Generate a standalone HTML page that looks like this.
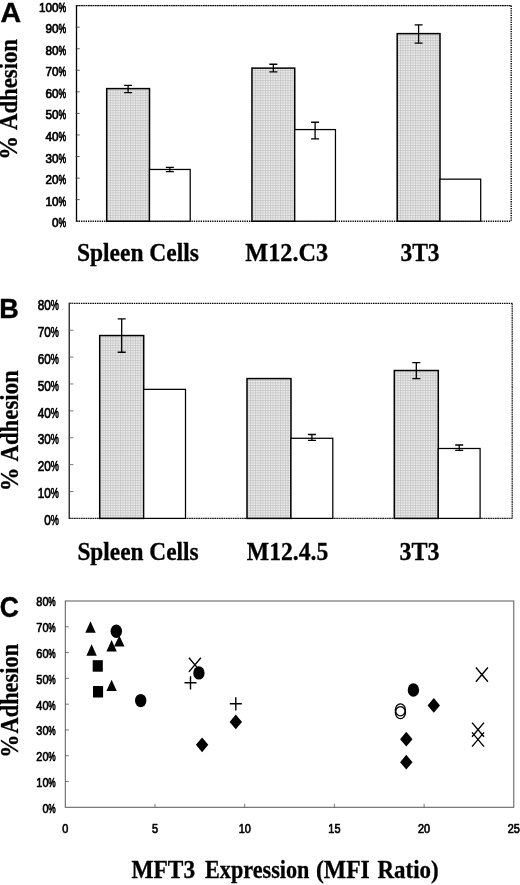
<!DOCTYPE html>
<html><head><meta charset="utf-8"><title>Figure</title>
<style>html,body{margin:0;padding:0;background:#fff}svg{display:block;will-change:transform;opacity:0.999}text{fill:#000}</style>
</head><body>
<svg width="520" height="885" viewBox="0 0 520 885">
<defs>
<pattern id="g" width="2.5" height="2.5" patternUnits="userSpaceOnUse">
<rect width="2.5" height="2.5" fill="#ececec"/>
<path d="M0 0.5H2.5M0.5 0V2.5" stroke="#c6c6c6" stroke-width="0.8"/>
</pattern>
</defs>
<rect width="520" height="885" fill="#fff"/>

<path d="M76.5 5.6H511.2" stroke="#000" stroke-width="1.1" stroke-dasharray="1.8 0.5" fill="none"/>
<path d="M511.2 5.6V221.2" stroke="#000" stroke-width="1.4" stroke-dasharray="1.3 1.0" fill="none"/>
<path d="M76.5 221.2H511.2" stroke="#000" stroke-width="1.4" stroke-dasharray="1.3 1.0" fill="none"/>
<path d="M76.5 5.1V221.7" stroke="#000" stroke-width="1.3" fill="none"/>
<path d="M75.7 221.20H79.7" stroke="#333" stroke-width="0.8"/>
<text transform="translate(58.57,227.25) scale(0.9,1)" text-anchor="end" font-family="Liberation Sans, Arial, sans-serif" font-size="13.0" stroke="#000" stroke-width="0.75">0</text>
<text transform="translate(66.00,227.25) scale(0.66,1)" text-anchor="end" font-family="Liberation Sans, Arial, sans-serif" font-size="13.0" stroke="#000" stroke-width="0.75">%</text>
<path d="M75.7 199.64H79.7" stroke="#333" stroke-width="0.8"/>
<text transform="translate(58.57,205.69) scale(0.9,1)" text-anchor="end" font-family="Liberation Sans, Arial, sans-serif" font-size="13.0" stroke="#000" stroke-width="0.75">10</text>
<text transform="translate(66.00,205.69) scale(0.66,1)" text-anchor="end" font-family="Liberation Sans, Arial, sans-serif" font-size="13.0" stroke="#000" stroke-width="0.75">%</text>
<path d="M75.7 178.08H79.7" stroke="#333" stroke-width="0.8"/>
<text transform="translate(58.57,184.13) scale(0.9,1)" text-anchor="end" font-family="Liberation Sans, Arial, sans-serif" font-size="13.0" stroke="#000" stroke-width="0.75">20</text>
<text transform="translate(66.00,184.13) scale(0.66,1)" text-anchor="end" font-family="Liberation Sans, Arial, sans-serif" font-size="13.0" stroke="#000" stroke-width="0.75">%</text>
<path d="M75.7 156.52H79.7" stroke="#333" stroke-width="0.8"/>
<text transform="translate(58.57,162.57) scale(0.9,1)" text-anchor="end" font-family="Liberation Sans, Arial, sans-serif" font-size="13.0" stroke="#000" stroke-width="0.75">30</text>
<text transform="translate(66.00,162.57) scale(0.66,1)" text-anchor="end" font-family="Liberation Sans, Arial, sans-serif" font-size="13.0" stroke="#000" stroke-width="0.75">%</text>
<path d="M75.7 134.96H79.7" stroke="#333" stroke-width="0.8"/>
<text transform="translate(58.57,141.01) scale(0.9,1)" text-anchor="end" font-family="Liberation Sans, Arial, sans-serif" font-size="13.0" stroke="#000" stroke-width="0.75">40</text>
<text transform="translate(66.00,141.01) scale(0.66,1)" text-anchor="end" font-family="Liberation Sans, Arial, sans-serif" font-size="13.0" stroke="#000" stroke-width="0.75">%</text>
<path d="M75.7 113.40H79.7" stroke="#333" stroke-width="0.8"/>
<text transform="translate(58.57,119.45) scale(0.9,1)" text-anchor="end" font-family="Liberation Sans, Arial, sans-serif" font-size="13.0" stroke="#000" stroke-width="0.75">50</text>
<text transform="translate(66.00,119.45) scale(0.66,1)" text-anchor="end" font-family="Liberation Sans, Arial, sans-serif" font-size="13.0" stroke="#000" stroke-width="0.75">%</text>
<path d="M75.7 91.84H79.7" stroke="#333" stroke-width="0.8"/>
<text transform="translate(58.57,97.89) scale(0.9,1)" text-anchor="end" font-family="Liberation Sans, Arial, sans-serif" font-size="13.0" stroke="#000" stroke-width="0.75">60</text>
<text transform="translate(66.00,97.89) scale(0.66,1)" text-anchor="end" font-family="Liberation Sans, Arial, sans-serif" font-size="13.0" stroke="#000" stroke-width="0.75">%</text>
<path d="M75.7 70.28H79.7" stroke="#333" stroke-width="0.8"/>
<text transform="translate(58.57,76.33) scale(0.9,1)" text-anchor="end" font-family="Liberation Sans, Arial, sans-serif" font-size="13.0" stroke="#000" stroke-width="0.75">70</text>
<text transform="translate(66.00,76.33) scale(0.66,1)" text-anchor="end" font-family="Liberation Sans, Arial, sans-serif" font-size="13.0" stroke="#000" stroke-width="0.75">%</text>
<path d="M75.7 48.72H79.7" stroke="#333" stroke-width="0.8"/>
<text transform="translate(58.57,54.77) scale(0.9,1)" text-anchor="end" font-family="Liberation Sans, Arial, sans-serif" font-size="13.0" stroke="#000" stroke-width="0.75">80</text>
<text transform="translate(66.00,54.77) scale(0.66,1)" text-anchor="end" font-family="Liberation Sans, Arial, sans-serif" font-size="13.0" stroke="#000" stroke-width="0.75">%</text>
<path d="M75.7 27.16H79.7" stroke="#333" stroke-width="0.8"/>
<text transform="translate(58.57,33.21) scale(0.9,1)" text-anchor="end" font-family="Liberation Sans, Arial, sans-serif" font-size="13.0" stroke="#000" stroke-width="0.75">90</text>
<text transform="translate(66.00,33.21) scale(0.66,1)" text-anchor="end" font-family="Liberation Sans, Arial, sans-serif" font-size="13.0" stroke="#000" stroke-width="0.75">%</text>
<path d="M75.7 5.60H79.7" stroke="#333" stroke-width="0.8"/>
<text transform="translate(58.57,11.65) scale(0.9,1)" text-anchor="end" font-family="Liberation Sans, Arial, sans-serif" font-size="13.0" stroke="#000" stroke-width="0.75">100</text>
<text transform="translate(66.00,11.65) scale(0.66,1)" text-anchor="end" font-family="Liberation Sans, Arial, sans-serif" font-size="13.0" stroke="#000" stroke-width="0.75">%</text>
<rect x="106.70" y="88.61" width="42.80" height="132.59" fill="url(#g)" stroke="#000" stroke-width="1.5"/>
<rect x="149.50" y="169.46" width="40.70" height="51.74" fill="#fff" stroke="#000" stroke-width="1.25"/>
<rect x="251.95" y="68.12" width="42.80" height="153.08" fill="url(#g)" stroke="#000" stroke-width="1.5"/>
<rect x="294.75" y="129.57" width="40.70" height="91.63" fill="#fff" stroke="#000" stroke-width="1.25"/>
<rect x="397.20" y="33.63" width="42.80" height="187.57" fill="url(#g)" stroke="#000" stroke-width="1.5"/>
<rect x="440.00" y="179.16" width="40.70" height="42.04" fill="#fff" stroke="#000" stroke-width="1.25"/>
<path d="M128.10 85.37V92.70M124.10 85.37H132.10M124.10 92.70H132.10" stroke="#000" stroke-width="1.3" fill="none"/>
<path d="M169.85 167.30V171.61M165.85 167.30H173.85M165.85 171.61H173.85" stroke="#000" stroke-width="1.3" fill="none"/>
<path d="M273.35 64.24V71.79M269.35 64.24H277.35M269.35 71.79H277.35" stroke="#000" stroke-width="1.3" fill="none"/>
<path d="M315.10 122.24V138.84M311.10 122.24H319.10M311.10 138.84H319.10" stroke="#000" stroke-width="1.3" fill="none"/>
<path d="M418.60 24.79V43.11M414.60 24.79H422.60M414.60 43.11H422.60" stroke="#000" stroke-width="1.3" fill="none"/>
<text transform="translate(77.00,261.20) scale(0.958,1)" text-anchor="start" font-family="Liberation Serif, Times New Roman, serif" font-weight="bold" font-size="24.5" stroke="#000" stroke-width="0.3">Spleen Cells</text>
<text transform="translate(245.30,261.20) scale(0.989,1)" text-anchor="start" font-family="Liberation Serif, Times New Roman, serif" font-weight="bold" font-size="24.5" stroke="#000" stroke-width="0.3">M12.C3</text>
<text transform="translate(400.40,261.20) scale(0.96,1)" text-anchor="start" font-family="Liberation Serif, Times New Roman, serif" font-weight="bold" font-size="24.5" stroke="#000" stroke-width="0.3">3T3</text>
<text transform="translate(17.30,159.70) rotate(-90) scale(0.97,1)" font-family="Liberation Serif, Times New Roman, serif" font-weight="bold" font-size="24.5" stroke="#000" stroke-width="0.3">%</text>
<text transform="translate(17.30,130.00) rotate(-90) scale(0.929,1)" font-family="Liberation Serif, Times New Roman, serif" font-weight="bold" font-size="24.5" stroke="#000" stroke-width="0.3">Adhesion</text>
<text transform="translate(0.6,21.7) scale(1.0,1.0)" font-family="Liberation Sans, Arial, sans-serif" font-weight="bold" font-size="28.5" stroke="#000" stroke-width="0.4">A</text>
<path d="M69.4 303.3H512.2" stroke="#000" stroke-width="1.2" stroke-dasharray="1.5 0.8" fill="none"/>
<path d="M512.2 303.3V518.4" stroke="#222" stroke-width="1.2" stroke-dasharray="1.8 0.5" fill="none"/>
<path d="M69.4 518.4H512.2" stroke="#222" stroke-width="1.1" stroke-dasharray="1.8 0.5" fill="none"/>
<path d="M69.2 302.8V518.9" stroke="#000" stroke-width="1.15" fill="none"/>
<path d="M69.4 518.40H73.4" stroke="#555" stroke-width="0.8"/>
<text transform="translate(50.92,525.08) scale(0.83,1)" text-anchor="end" font-family="Liberation Sans, Arial, sans-serif" font-size="14.2" stroke="#000" stroke-width="0.7">0</text>
<text transform="translate(58.80,525.08) scale(0.64,1)" text-anchor="end" font-family="Liberation Sans, Arial, sans-serif" font-size="14.2" stroke="#000" stroke-width="0.7">%</text>
<path d="M69.4 491.51H73.4" stroke="#555" stroke-width="0.8"/>
<text transform="translate(50.92,498.20) scale(0.83,1)" text-anchor="end" font-family="Liberation Sans, Arial, sans-serif" font-size="14.2" stroke="#000" stroke-width="0.7">10</text>
<text transform="translate(58.80,498.20) scale(0.64,1)" text-anchor="end" font-family="Liberation Sans, Arial, sans-serif" font-size="14.2" stroke="#000" stroke-width="0.7">%</text>
<path d="M69.4 464.62H73.4" stroke="#555" stroke-width="0.8"/>
<text transform="translate(50.92,471.31) scale(0.83,1)" text-anchor="end" font-family="Liberation Sans, Arial, sans-serif" font-size="14.2" stroke="#000" stroke-width="0.7">20</text>
<text transform="translate(58.80,471.31) scale(0.64,1)" text-anchor="end" font-family="Liberation Sans, Arial, sans-serif" font-size="14.2" stroke="#000" stroke-width="0.7">%</text>
<path d="M69.4 437.74H73.4" stroke="#555" stroke-width="0.8"/>
<text transform="translate(50.92,444.42) scale(0.83,1)" text-anchor="end" font-family="Liberation Sans, Arial, sans-serif" font-size="14.2" stroke="#000" stroke-width="0.7">30</text>
<text transform="translate(58.80,444.42) scale(0.64,1)" text-anchor="end" font-family="Liberation Sans, Arial, sans-serif" font-size="14.2" stroke="#000" stroke-width="0.7">%</text>
<path d="M69.4 410.85H73.4" stroke="#555" stroke-width="0.8"/>
<text transform="translate(50.92,417.53) scale(0.83,1)" text-anchor="end" font-family="Liberation Sans, Arial, sans-serif" font-size="14.2" stroke="#000" stroke-width="0.7">40</text>
<text transform="translate(58.80,417.53) scale(0.64,1)" text-anchor="end" font-family="Liberation Sans, Arial, sans-serif" font-size="14.2" stroke="#000" stroke-width="0.7">%</text>
<path d="M69.4 383.96H73.4" stroke="#555" stroke-width="0.8"/>
<text transform="translate(50.92,390.65) scale(0.83,1)" text-anchor="end" font-family="Liberation Sans, Arial, sans-serif" font-size="14.2" stroke="#000" stroke-width="0.7">50</text>
<text transform="translate(58.80,390.65) scale(0.64,1)" text-anchor="end" font-family="Liberation Sans, Arial, sans-serif" font-size="14.2" stroke="#000" stroke-width="0.7">%</text>
<path d="M69.4 357.07H73.4" stroke="#555" stroke-width="0.8"/>
<text transform="translate(50.92,363.76) scale(0.83,1)" text-anchor="end" font-family="Liberation Sans, Arial, sans-serif" font-size="14.2" stroke="#000" stroke-width="0.7">60</text>
<text transform="translate(58.80,363.76) scale(0.64,1)" text-anchor="end" font-family="Liberation Sans, Arial, sans-serif" font-size="14.2" stroke="#000" stroke-width="0.7">%</text>
<path d="M69.4 330.19H73.4" stroke="#555" stroke-width="0.8"/>
<text transform="translate(50.92,336.87) scale(0.83,1)" text-anchor="end" font-family="Liberation Sans, Arial, sans-serif" font-size="14.2" stroke="#000" stroke-width="0.7">70</text>
<text transform="translate(58.80,336.87) scale(0.64,1)" text-anchor="end" font-family="Liberation Sans, Arial, sans-serif" font-size="14.2" stroke="#000" stroke-width="0.7">%</text>
<path d="M69.4 303.30H73.4" stroke="#555" stroke-width="0.8"/>
<text transform="translate(50.92,309.98) scale(0.83,1)" text-anchor="end" font-family="Liberation Sans, Arial, sans-serif" font-size="14.2" stroke="#000" stroke-width="0.7">80</text>
<text transform="translate(58.80,309.98) scale(0.64,1)" text-anchor="end" font-family="Liberation Sans, Arial, sans-serif" font-size="14.2" stroke="#000" stroke-width="0.7">%</text>
<rect x="99.70" y="335.56" width="44.00" height="182.83" fill="url(#g)" stroke="#000" stroke-width="1.5"/>
<rect x="143.70" y="389.34" width="41.80" height="129.06" fill="#fff" stroke="#000" stroke-width="1.25"/>
<rect x="247.00" y="378.58" width="44.00" height="139.81" fill="url(#g)" stroke="#000" stroke-width="1.5"/>
<rect x="291.00" y="438.28" width="41.80" height="80.12" fill="#fff" stroke="#000" stroke-width="1.25"/>
<rect x="394.30" y="370.52" width="44.00" height="147.88" fill="url(#g)" stroke="#000" stroke-width="1.5"/>
<rect x="438.30" y="448.49" width="41.80" height="69.91" fill="#fff" stroke="#000" stroke-width="1.25"/>
<path d="M121.70 318.89V352.24M117.70 318.89H125.70M117.70 352.24H125.70" stroke="#000" stroke-width="1.3" fill="none"/>
<path d="M311.90 434.51V440.43M307.90 434.51H315.90M307.90 440.43H315.90" stroke="#000" stroke-width="1.3" fill="none"/>
<path d="M416.30 362.72V378.58M412.30 362.72H420.30M412.30 378.58H420.30" stroke="#000" stroke-width="1.3" fill="none"/>
<path d="M459.20 445.00V450.37M455.20 445.00H463.20M455.20 450.37H463.20" stroke="#000" stroke-width="1.3" fill="none"/>
<text transform="translate(77.40,559.90) scale(0.952,1)" text-anchor="start" font-family="Liberation Serif, Times New Roman, serif" font-weight="bold" font-size="24.5" stroke="#000" stroke-width="0.3">Spleen Cells</text>
<text transform="translate(246.80,559.90) scale(0.967,1)" text-anchor="start" font-family="Liberation Serif, Times New Roman, serif" font-weight="bold" font-size="24.5" stroke="#000" stroke-width="0.3">M12.4.5</text>
<text transform="translate(399.60,559.90) scale(0.98,1)" text-anchor="start" font-family="Liberation Serif, Times New Roman, serif" font-weight="bold" font-size="24.5" stroke="#000" stroke-width="0.3">3T3</text>
<text transform="translate(17.50,491.30) rotate(-90) scale(0.97,1)" font-family="Liberation Serif, Times New Roman, serif" font-weight="bold" font-size="24.5" stroke="#000" stroke-width="0.3">%</text>
<text transform="translate(17.50,461.60) rotate(-90) scale(0.932,1)" font-family="Liberation Serif, Times New Roman, serif" font-weight="bold" font-size="24.5" stroke="#000" stroke-width="0.3">Adhesion</text>
<text transform="translate(-0.8,318.0) scale(0.95,1.0)" font-family="Liberation Sans, Arial, sans-serif" font-weight="bold" font-size="28.5" stroke="#000" stroke-width="0.4">B</text>
<rect x="65.3" y="601.0" width="448.49999999999994" height="206.29999999999995" fill="none" stroke="#585858" stroke-width="1.0"/>
<text transform="translate(48.50,812.75) scale(0.84,1)" text-anchor="end" font-family="Liberation Sans, Arial, sans-serif" font-size="13.0" stroke="#000" stroke-width="0.7">0</text>
<text transform="translate(55.70,812.75) scale(0.64,1)" text-anchor="end" font-family="Liberation Sans, Arial, sans-serif" font-size="13.0" stroke="#000" stroke-width="0.7">%</text>
<path d="M65.3 781.51H68.8" stroke="#555" stroke-width="0.8"/>
<text transform="translate(48.50,786.97) scale(0.84,1)" text-anchor="end" font-family="Liberation Sans, Arial, sans-serif" font-size="13.0" stroke="#000" stroke-width="0.7">10</text>
<text transform="translate(55.70,786.97) scale(0.64,1)" text-anchor="end" font-family="Liberation Sans, Arial, sans-serif" font-size="13.0" stroke="#000" stroke-width="0.7">%</text>
<path d="M65.3 755.72H68.8" stroke="#555" stroke-width="0.8"/>
<text transform="translate(48.50,761.18) scale(0.84,1)" text-anchor="end" font-family="Liberation Sans, Arial, sans-serif" font-size="13.0" stroke="#000" stroke-width="0.7">20</text>
<text transform="translate(55.70,761.18) scale(0.64,1)" text-anchor="end" font-family="Liberation Sans, Arial, sans-serif" font-size="13.0" stroke="#000" stroke-width="0.7">%</text>
<path d="M65.3 729.94H68.8" stroke="#555" stroke-width="0.8"/>
<text transform="translate(48.50,735.39) scale(0.84,1)" text-anchor="end" font-family="Liberation Sans, Arial, sans-serif" font-size="13.0" stroke="#000" stroke-width="0.7">30</text>
<text transform="translate(55.70,735.39) scale(0.64,1)" text-anchor="end" font-family="Liberation Sans, Arial, sans-serif" font-size="13.0" stroke="#000" stroke-width="0.7">%</text>
<path d="M65.3 704.15H68.8" stroke="#555" stroke-width="0.8"/>
<text transform="translate(48.50,709.60) scale(0.84,1)" text-anchor="end" font-family="Liberation Sans, Arial, sans-serif" font-size="13.0" stroke="#000" stroke-width="0.7">40</text>
<text transform="translate(55.70,709.60) scale(0.64,1)" text-anchor="end" font-family="Liberation Sans, Arial, sans-serif" font-size="13.0" stroke="#000" stroke-width="0.7">%</text>
<path d="M65.3 678.36H68.8" stroke="#555" stroke-width="0.8"/>
<text transform="translate(48.50,683.82) scale(0.84,1)" text-anchor="end" font-family="Liberation Sans, Arial, sans-serif" font-size="13.0" stroke="#000" stroke-width="0.7">50</text>
<text transform="translate(55.70,683.82) scale(0.64,1)" text-anchor="end" font-family="Liberation Sans, Arial, sans-serif" font-size="13.0" stroke="#000" stroke-width="0.7">%</text>
<path d="M65.3 652.58H68.8" stroke="#555" stroke-width="0.8"/>
<text transform="translate(48.50,658.03) scale(0.84,1)" text-anchor="end" font-family="Liberation Sans, Arial, sans-serif" font-size="13.0" stroke="#000" stroke-width="0.7">60</text>
<text transform="translate(55.70,658.03) scale(0.64,1)" text-anchor="end" font-family="Liberation Sans, Arial, sans-serif" font-size="13.0" stroke="#000" stroke-width="0.7">%</text>
<path d="M65.3 626.79H68.8" stroke="#555" stroke-width="0.8"/>
<text transform="translate(48.50,632.24) scale(0.84,1)" text-anchor="end" font-family="Liberation Sans, Arial, sans-serif" font-size="13.0" stroke="#000" stroke-width="0.7">70</text>
<text transform="translate(55.70,632.24) scale(0.64,1)" text-anchor="end" font-family="Liberation Sans, Arial, sans-serif" font-size="13.0" stroke="#000" stroke-width="0.7">%</text>
<text transform="translate(48.50,606.45) scale(0.84,1)" text-anchor="end" font-family="Liberation Sans, Arial, sans-serif" font-size="13.0" stroke="#000" stroke-width="0.7">80</text>
<text transform="translate(55.70,606.45) scale(0.64,1)" text-anchor="end" font-family="Liberation Sans, Arial, sans-serif" font-size="13.0" stroke="#000" stroke-width="0.7">%</text>
<text transform="translate(65.30,833.25) scale(0.84,1)" text-anchor="middle" font-family="Liberation Sans, Arial, sans-serif" font-size="13.0" stroke="#000" stroke-width="0.7">0</text>
<path d="M155.00 807.3V803.8" stroke="#555" stroke-width="0.8"/>
<text transform="translate(155.00,833.25) scale(0.84,1)" text-anchor="middle" font-family="Liberation Sans, Arial, sans-serif" font-size="13.0" stroke="#000" stroke-width="0.7">5</text>
<path d="M244.70 807.3V803.8" stroke="#555" stroke-width="0.8"/>
<text transform="translate(244.70,833.25) scale(0.84,1)" text-anchor="middle" font-family="Liberation Sans, Arial, sans-serif" font-size="13.0" stroke="#000" stroke-width="0.7">10</text>
<path d="M334.40 807.3V803.8" stroke="#555" stroke-width="0.8"/>
<text transform="translate(334.40,833.25) scale(0.84,1)" text-anchor="middle" font-family="Liberation Sans, Arial, sans-serif" font-size="13.0" stroke="#000" stroke-width="0.7">15</text>
<path d="M424.10 807.3V803.8" stroke="#555" stroke-width="0.8"/>
<text transform="translate(424.10,833.25) scale(0.84,1)" text-anchor="middle" font-family="Liberation Sans, Arial, sans-serif" font-size="13.0" stroke="#000" stroke-width="0.7">20</text>
<text transform="translate(513.80,833.25) scale(0.84,1)" text-anchor="middle" font-family="Liberation Sans, Arial, sans-serif" font-size="13.0" stroke="#000" stroke-width="0.7">25</text>
<path d="M90.50 621.20L95.70 632.70H85.30Z" fill="#000"/>
<path d="M91.60 644.20L96.80 655.80H86.40Z" fill="#000"/>
<path d="M111.60 640.00L116.80 651.50H106.40Z" fill="#000"/>
<path d="M119.30 635.60L124.50 646.60H114.10Z" fill="#000"/>
<path d="M111.60 679.80L116.80 691.00H106.40Z" fill="#000"/>
<ellipse cx="116.30" cy="631.30" rx="5.7" ry="6.7" fill="#000"/>
<rect x="92.70" y="660.20" width="10.10" height="11.50" fill="#000"/>
<rect x="93.00" y="686.00" width="10.10" height="11.50" fill="#000"/>
<ellipse cx="140.70" cy="700.60" rx="5.7" ry="6.7" fill="#000"/>
<path d="M188.90 657.70L200.90 671.90M200.90 657.70L188.90 671.90" stroke="#000" stroke-width="1.4" fill="none"/>
<ellipse cx="198.90" cy="672.90" rx="5.7" ry="6.7" fill="#000"/>
<path d="M184.50 682.80H196.50M190.50 676.20V689.40" stroke="#000" stroke-width="1.4" fill="none"/>
<path d="M229.80 703.80H241.80M235.80 697.20V710.40" stroke="#000" stroke-width="1.4" fill="none"/>
<path d="M235.80 714.50L242.00 721.90L235.80 729.30L229.60 721.90Z" fill="#000"/>
<path d="M202.10 737.40L208.30 744.80L202.10 752.20L195.90 744.80Z" fill="#000"/>
<ellipse cx="413.40" cy="690.00" rx="5.7" ry="6.7" fill="#000"/>
<ellipse cx="400.40" cy="709.90" rx="5.0" ry="6.0" fill="none" stroke="#000" stroke-width="1.4"/>
<ellipse cx="400.40" cy="712.60" rx="5.0" ry="6.0" fill="none" stroke="#000" stroke-width="1.4"/>
<path d="M433.80 698.00L440.00 705.40L433.80 712.80L427.60 705.40Z" fill="#000"/>
<path d="M406.30 731.80L412.50 739.20L406.30 746.60L400.10 739.20Z" fill="#000"/>
<path d="M406.30 754.80L412.50 762.20L406.30 769.60L400.10 762.20Z" fill="#000"/>
<path d="M475.90 667.50L487.90 681.70M487.90 667.50L475.90 681.70" stroke="#000" stroke-width="1.4" fill="none"/>
<path d="M472.00 722.60L484.00 736.80M484.00 722.60L472.00 736.80" stroke="#000" stroke-width="1.4" fill="none"/>
<path d="M472.00 732.40L484.00 746.60M484.00 732.40L472.00 746.60" stroke="#000" stroke-width="1.4" fill="none"/>
<text transform="translate(131.50,878.30) scale(0.955,1)" text-anchor="start" font-family="Liberation Serif, Times New Roman, serif" font-weight="bold" font-size="24.5" stroke="#000" stroke-width="0.3">MFT3</text>
<text transform="translate(205.00,878.30) scale(0.906,1)" text-anchor="start" font-family="Liberation Serif, Times New Roman, serif" font-weight="bold" font-size="24.5" stroke="#000" stroke-width="0.3">Expression</text>
<text transform="translate(316.00,878.30) scale(0.965,1)" text-anchor="start" font-family="Liberation Serif, Times New Roman, serif" font-weight="bold" font-size="24.5" stroke="#000" stroke-width="0.3">(MFI</text>
<text transform="translate(377.50,878.30) scale(0.936,1)" text-anchor="start" font-family="Liberation Serif, Times New Roman, serif" font-weight="bold" font-size="24.5" stroke="#000" stroke-width="0.3">Ratio)</text>
<text transform="translate(18.20,757.80) rotate(-90) scale(0.95,1)" font-family="Liberation Serif, Times New Roman, serif" font-weight="bold" font-size="24.5" stroke="#000" stroke-width="0.3">%</text>
<text transform="translate(18.20,733.50) rotate(-90) scale(0.915,1)" font-family="Liberation Serif, Times New Roman, serif" font-weight="bold" font-size="24.5" stroke="#000" stroke-width="0.3">Adhesion</text>
<text transform="translate(-0.3,616.8) scale(0.93,1.06)" font-family="Liberation Sans, Arial, sans-serif" font-weight="bold" font-size="28.5" stroke="#000" stroke-width="0.4">C</text>
</svg>
</body></html>
